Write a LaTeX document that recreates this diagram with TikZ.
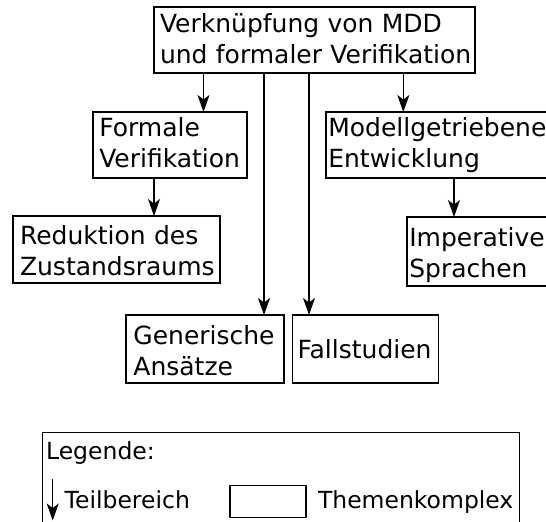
\documentclass[tikz,border=0pt]{standalone}
\usepackage{fontspec}
\setmainfont{DejaVu Sans}
\usetikzlibrary{arrows.meta}
\hyphenpenalty=10000
\exhyphenpenalty=10000
\hbadness=10000
\hfuzz=20pt
\begin{document}
\begin{tikzpicture}[x=1bp,y=-1bp,
  txt/.style={font=\fontsize{25bp}{31bp}\selectfont},
  legtxt/.style={font=\fontsize{23.5bp}{31bp}\selectfont},
  topic/.style={txt, draw, line width=1.3bp, align=left, inner ysep=0pt,
    outer sep=0pt, anchor=north west},
  lbl/.style={legtxt, inner sep=0pt, anchor=base west},
  frame/.style={draw, line width=1.3bp, inner sep=0pt, outer sep=0pt,
    anchor=north west},
  arr/.style={line width=1.3bp, -{Stealth[length=17bp,width=12bp,inset=4.5bp]}}]
\useasboundingbox (0,0) rectangle (546,522);
\clip (0,0) rectangle (546,522);

% topic boxes (each line kept in one piece)
\node[topic, inner xsep=6bp, text width=309bp, text height=26bp, text depth=40bp]
  (top) at (154,7) {\mbox{Verknüpfung von MDD}\\\mbox{und formaler Verifikation}};
\node[topic, inner xsep=6.3bp, text width=141.4bp, text height=25bp, text depth=41bp]
  (formal) at (93,112) {Formale\\Verifikation};
\node[topic, inner xsep=2.3bp, text width=300bp, text height=25bp, text depth=41bp]
  (mdd) at (326,112) {Modellgetriebene\\Entwicklung};
\node[topic, inner xsep=7bp, text width=193bp, text height=28bp, text depth=39bp]
  (reduk) at (13,216) {\mbox{Reduktion des}\\Zustandsraums};
\node[topic, inner xsep=2.3bp, text width=300bp, text height=29bp, text depth=40bp]
  (imper) at (407,217) {Imperative\\Sprachen};
\node[topic, inner xsep=7.4bp, text width=143.2bp, text height=29bp, text depth=39bp]
  (gener) at (126,315) {Generische\\Ansätze};
\node[topic, inner xsep=5bp, text width=136bp, text height=43bp, text depth=25bp]
  (fall) at (292.5,315) {Fallstudien};

% connector start points on the box borders
\coordinate (s1) at ([xshift=49.5bp]top.south west);
\coordinate (s2) at ([xshift=110bp]top.south west);
\coordinate (s3) at ([xshift=155bp]top.south west);
\coordinate (s4) at ([xshift=249.3bp]top.south west);
\coordinate (s5) at ([xshift=61bp]formal.south west);
\coordinate (s6) at ([xshift=128bp]mdd.south west);

\draw[arr] (s1) -- (s1 |- formal.north);
\draw[arr] (s2) -- (s2 |- gener.north);
\draw[arr] (s3) -- (s3 |- fall.north);
\draw[arr] (s4) -- (s4 |- mdd.north);
\draw[arr] (s5) -- (s5 |- reduk.north);
\draw[arr] (s6) -- (s6 |- imper.north);

% legend
\node[frame, minimum width=477bp, minimum height=120bp] (legend) at (42.3,432.3) {};
\node[lbl] (legtitle) at (45.9,459.3) {Legende:};
\coordinate (ls) at (52.7,479.3);
\coordinate (le) at (52.7,520.5);
\draw[arr] (ls) -- (le);
\node[lbl] (teil) at (64.5,508.3) {Teilbereich};
\node[frame, minimum width=76bp, minimum height=32bp] (sample) at (230,485.7) {};
\node[lbl] (thema) at (317.8,508.3) {Themenkomplex};
\end{tikzpicture}
\end{document}
